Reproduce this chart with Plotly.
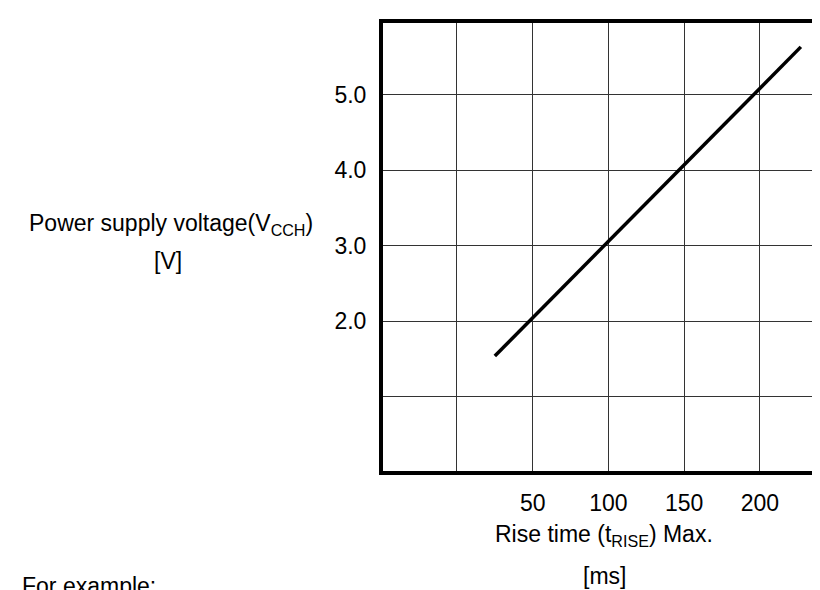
import plotly.graph_objects as go

# Data
rise_time_ms = [25, 227]
supply_voltage_v = [1.54, 5.63]

x_tickvals = [0, 50, 100, 150, 200]
x_ticktext = ["", "50", "100", "150", "200"]
y_tickvals = [1, 2, 3, 4, 5]
y_ticktext = ["", "2.0", "3.0", "4.0", "5.0"]

FONT = "Liberation Sans, Arial, sans-serif"
FS = 23

L, R, T, B = 375, 0, 15, 127
W, H = 820, 590

fig = go.Figure()
fig.add_trace(go.Scatter(
    x=rise_time_ms, y=supply_voltage_v, mode="lines",
    line=dict(color="black", width=3.5), showlegend=False, hoverinfo="skip"))

fig.update_layout(
    width=W, height=H,
    margin=dict(l=L, r=R, t=T, b=B),
    paper_bgcolor="white", plot_bgcolor="white",
    font=dict(family=FONT, size=FS, color="black"),
    xaxis=dict(range=[-48.8, 244.9], tickvals=x_tickvals, ticktext=x_ticktext,
               showgrid=True, gridcolor="#333", gridwidth=1, zeroline=False,
               showline=True, linecolor="black", linewidth=4, mirror=True,
               ticks="", ticklabelstandoff=8, tickfont=dict(size=FS)),
    yaxis=dict(range=[0.02, 5.946], tickvals=y_tickvals, ticktext=y_ticktext,
               showgrid=True, gridcolor="#333", gridwidth=1, zeroline=False,
               showline=True, linecolor="black", linewidth=4, mirror=False,
               ticks="", ticklabelstandoff=8, tickfont=dict(size=FS)),
)

ann = dict(xref="paper", yref="paper", showarrow=False,
           font=dict(family=FONT, size=FS, color="black"))


def add_px(text, px, py, xanchor="center"):
    # convert a pixel position in the page to paper coordinates
    x = (px - L) / (W - L - R)
    y = (H - B - py) / (H - T - B)
    fig.add_annotation(text=text, x=x, y=y, xanchor=xanchor, yanchor="middle", **ann)


add_px("Power supply voltage(V<sub>CCH</sub>)", 163, 217)
add_px("[V]", 160, 253)
add_px("Rise time (t<sub>RISE</sub>) Max.", 596, 527)
add_px("[ms]", 596, 568)
add_px("For example:", 12, 578, xanchor="left")

fig.write_html("out.html")
